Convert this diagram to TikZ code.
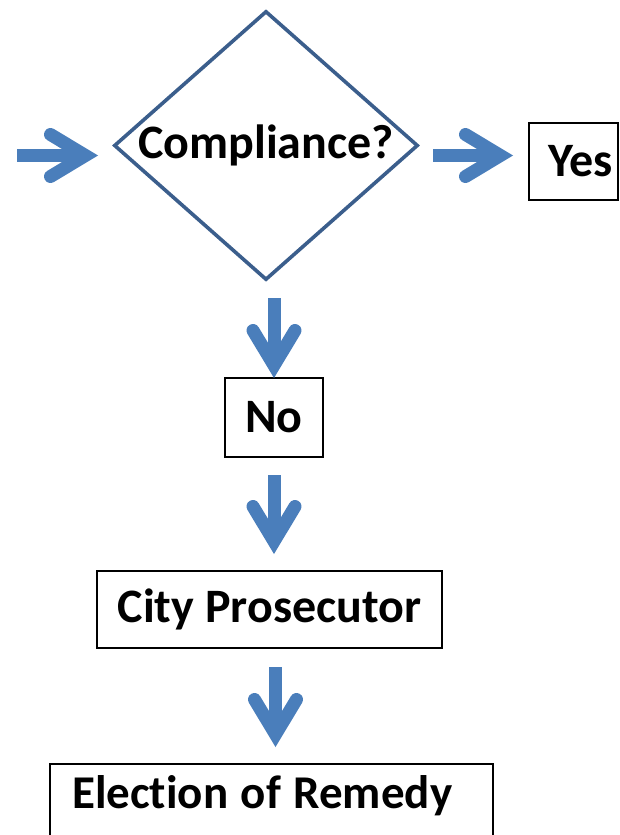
\documentclass[tikz,border=0pt]{standalone}
\usepackage{fontspec}
\setmainfont{Carlito}[Ligatures=NoCommon]
\usetikzlibrary{shapes.geometric}
\definecolor{arrowblue}{HTML}{4A7EBB}
\definecolor{diamondblue}{HTML}{3B5E8C}
\tikzset{
  every node/.style={font=\bfseries\fontsize{48}{52}\selectfont},
  box/.style={draw=black, line width=2.4pt, rectangle, inner sep=0pt},
  decision/.style={draw=diamondblue, line width=3.6pt, shape=diamond, inner sep=0pt},
  shaft/.style={draw=arrowblue, line width=13pt, line cap=butt},
  fatarrow/.pic={\draw[arrowblue, line width=13pt, line cap=round, line join=miter]
      (-47.5,21) -- (-12.6,0) -- (-47.5,-21);},
}
\begin{document}
\begin{tikzpicture}[x=1pt, y=-1pt]
\useasboundingbox (0,0) rectangle (619,835);
\clip (0,0) rectangle (619,835);

% nodes
\node[decision, minimum width=304pt, minimum height=269pt] (dec) at (266,145.5) {\makebox[0pt]{\raisebox{-3pt}{Compliance?}}};
\node[box, minimum width=89pt, minimum height=77pt] (yes) at (573.5,161.5) {\hspace*{14pt}Yes};
\node[box, minimum width=98pt, minimum height=79pt] (no) at (274,417.5) {No};
\node[box, minimum width=345pt, minimum height=77pt] (city) at (269.5,609.5) {City Prosecutor};
\node[box, anchor=north west, minimum width=443pt, text width=399pt, align=left,
      font=\bfseries\fontsize{47}{52}\selectfont,
      inner xsep=21.8pt, inner ysep=10.8pt, text height=33pt, text depth=45pt] (rem) at (49,763)
      {\spaceskip=12.5pt plus 3pt\relax Election of Remedy};

% arrow coordinates
\coordinate (a1s) at (17,155.5);  \coordinate (a1t) at (98,155.5);
\coordinate (a2s) at (433,155.5); \coordinate (a2t) at (513,155.5);
\coordinate (a3s) at (274,298);   \coordinate (a3t) at (274,378);
\coordinate (a4s) at (274,475);   \coordinate (a4t) at (274,554);
\coordinate (a5s) at (275.5,667); \coordinate (a5t) at (275.5,747);

% arrows
\draw[shaft] (a1s) -- ([xshift=-20pt]a1t);
\pic at (a1t) {fatarrow};
\draw[shaft] (a2s) -- ([xshift=-20pt]a2t);
\pic at (a2t) {fatarrow};
\draw[shaft] (a3s) -- ([yshift=20pt]a3t);
\pic[rotate=-90] at (a3t) {fatarrow};
\draw[shaft] (a4s) -- ([yshift=20pt]a4t);
\pic[rotate=-90] at (a4t) {fatarrow};
\draw[shaft] (a5s) -- ([yshift=20pt]a5t);
\pic[rotate=-90] at (a5t) {fatarrow};
\end{tikzpicture}
\end{document}
